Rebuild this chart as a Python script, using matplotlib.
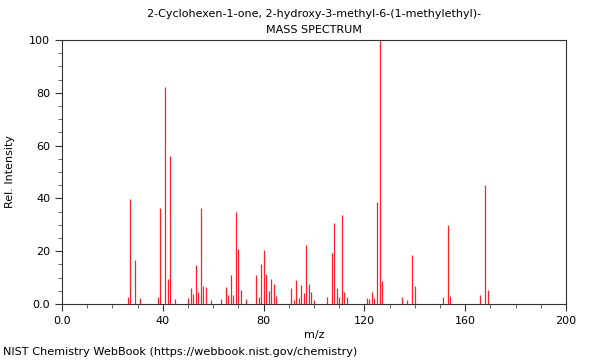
import numpy as np
import matplotlib.pyplot as plt
from matplotlib.ticker import MultipleLocator, FixedLocator

# peaks
mz = [26, 27, 29, 31, 38, 39, 41, 42, 43, 45,
      50, 51, 52, 53, 54, 55, 56, 57, 59, 63,
      65, 66, 67, 68, 69, 70, 71, 73, 77, 78,
      79, 80, 81, 82, 83, 84, 85, 91, 92, 93,
      94, 95, 96, 97, 98, 99, 100, 105, 107, 108,
      109, 110, 111, 112, 113, 121, 122, 123, 124, 125,
      126, 127, 135, 137, 139, 140, 151, 153, 154, 166,
      168, 169]
intensity = [2.5, 39.6, 16.7, 2.4, 2.6, 36.5, 82.3, 9.5, 56.0, 1.9,
             2.1, 6.2, 3.8, 14.8, 4.7, 36.2, 6.8, 6.6, 1.5, 2.0,
             6.6, 3.4, 10.9, 3.4, 34.8, 21.0, 5.3, 2.0, 10.9, 2.8,
             15.2, 20.5, 11.4, 4.9, 9.5, 7.7, 3.2, 5.9, 1.5, 9.1,
             2.3, 7.3, 4.3, 22.3, 7.6, 4.7, 1.5, 2.5, 19.4, 30.8,
             5.9, 2.8, 33.7, 4.4, 2.7, 2.3, 2.0, 4.5, 2.4, 38.6,
             100.0, 8.7, 2.5, 1.4, 18.6, 6.7, 2.7, 29.9, 3.0, 3.5,
             45.2, 5.4]

title1 = "2-Cyclohexen-1-one, 2-hydroxy-3-methyl-6-(1-methylethyl)-"
title2 = "MASS SPECTRUM"
footer = "NIST Chemistry WebBook (https://webbook.nist.gov/chemistry)"
xticks = [0, 40, 80, 120, 160, 200]
xticklabels = ["0.0", "40", "80", "120", "160", "200"]
yticks = [0, 20, 40, 60, 80, 100]
yticklabels = ["0.0", "20", "40", "60", "80", "100"]

fig = plt.figure(figsize=(6, 3.6), dpi=100)
ax = fig.add_axes([62/600, 56/360, 504/600, 264/360])

ax.vlines(mz, 0, intensity, color="#ff2020", linewidth=0.9)

ax.set_xlim(0, 200)
ax.set_ylim(0, 100)
ax.xaxis.set_major_locator(FixedLocator(xticks))
ax.set_xticklabels(xticklabels)
ax.yaxis.set_major_locator(FixedLocator(yticks))
ax.set_yticklabels(yticklabels)
ax.xaxis.set_minor_locator(MultipleLocator(10))
ax.yaxis.set_minor_locator(MultipleLocator(5))
ax.tick_params(axis='both', which='major', labelsize=8, length=5, width=0.8, color="#333333")
ax.tick_params(axis='both', which='minor', length=3, width=0.6, color="#555555")
for s in ax.spines.values():
    s.set_color("#333333")
    s.set_linewidth(0.8)

ax.set_xlabel("m/z", fontsize=8, labelpad=3)
fig.text(10/600, 0.5 + 8/360, "Rel. Intensity", rotation=90, ha="center", va="center", fontsize=8)

xc = (62 + 566) / 2 / 600
fig.text(xc, 1 - 14/360, title1, ha="center", va="center", fontsize=8)
fig.text(xc, 1 - 30/360, title2, ha="center", va="center", fontsize=8)
fig.text(3/600, 1 - 352/360, footer, ha="left", va="center", fontsize=8.1)

fig.savefig("out.png", dpi=100)
